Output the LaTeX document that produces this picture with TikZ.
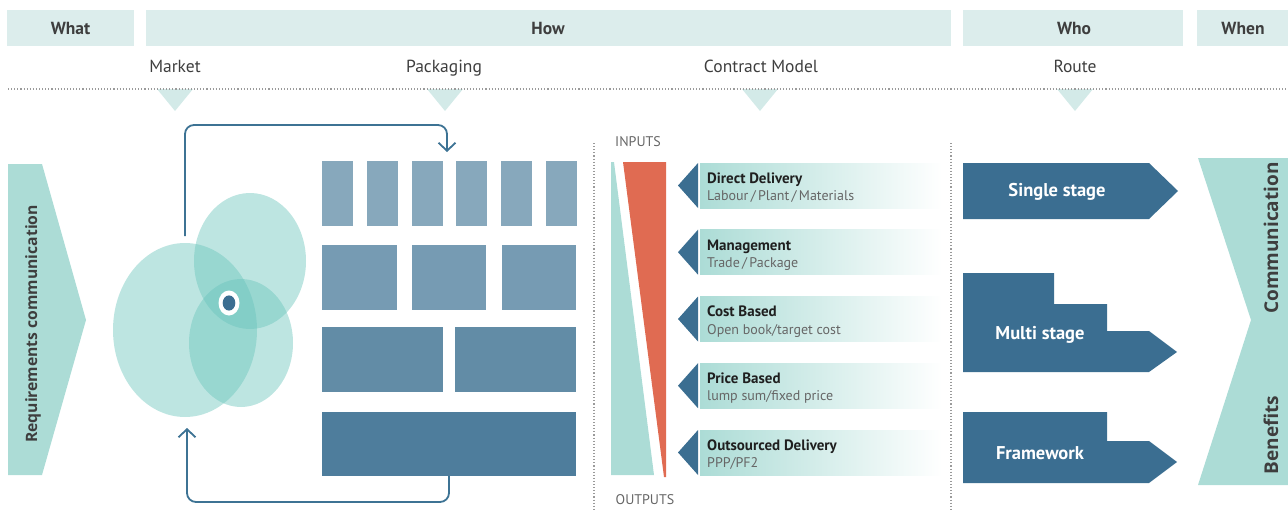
\documentclass[tikz,border=0pt]{standalone}
\usepackage{fontspec}
\setmainfont{PT Sans}
\newfontfamily\widefont{Open Sans}
\usetikzlibrary{arrows.meta}

\definecolor{hdrfill}{HTML}{DCEDEC}
\definecolor{hdrtext}{HTML}{3E3E3E}
\definecolor{tricol}{HTML}{D3EAE8}
\definecolor{aqua}{HTML}{ACDCD6}
\definecolor{vennc}{RGB}{105,196,187}
\definecolor{navy}{HTML}{3B6E91}
\definecolor{flowc}{HTML}{3D7394}
\definecolor{pkA}{HTML}{87A8BC}
\definecolor{pkB}{HTML}{769BB3}
\definecolor{pkC}{HTML}{628CA6}
\definecolor{pkD}{HTML}{4E7D9C}
\definecolor{redwedge}{HTML}{E06B52}
\definecolor{subgray}{HTML}{666666}
\definecolor{dotgray}{HTML}{9A9A9A}

\begin{document}
\begin{tikzpicture}[x=1pt,y=-1pt,
  hdrbox/.style={fill=hdrfill, minimum height=36pt, inner sep=0pt, outer sep=0pt},
  hdr/.style={anchor=base, text=hdrtext, inner sep=0pt,
              font=\fontsize{17.5}{19}\selectfont\bfseries},
  subhdr/.style={anchor=base, text=hdrtext, font=\fontsize{17.5}{19}\selectfont, inner sep=0pt},
  dotline/.style={draw=dotgray, line width=1.1pt, dash pattern=on 1.1pt off 2pt},
  flow/.style={draw=flowc, line width=1.8pt, rounded corners=9pt,
               -{Straight Barb[length=8pt,width=17pt,line width=1.8pt]}},
  venn/.style={fill=vennc, fill opacity=0.44},
  itemtitle/.style={anchor=base west, inner sep=0pt, text=black!88,
              font=\fontsize{15}{16}\selectfont\bfseries},
  itemsub/.style={anchor=base west, inner sep=0pt, text=subgray,
              font=\fontsize{14}{16}\selectfont},
  routetext/.style={anchor=base, text=white, inner sep=0pt, font=\fontsize{18.5}{20}\selectfont\bfseries},
  sidetext/.style={rotate=90, text=hdrtext, inner sep=0pt,
              font=\widefont\fontsize{15.7}{17}\selectfont\bfseries},
  endtext/.style={sidetext, font=\widefont\fontsize{19}{21}\selectfont\bfseries},
  ioText/.style={text=subgray, inner sep=0pt, font=\fontsize{14}{16}\selectfont}
]
\useasboundingbox (0,0) rectangle (1288,511);

% ---- column headers ----
\node[hdrbox, minimum width=127pt] (whatbox) at (70.5,28) {};
\node[hdrbox, minimum width=805pt] (howbox)  at (548.5,28) {};
\node[hdrbox, minimum width=220pt] (whobox)  at (1073,28) {};
\node[hdrbox, minimum width=91pt]  (whenbox) at (1242.5,28) {};
\node[hdr] (what) at (70.5,35) {What};
\node[hdr] (how)  at (548,35) {How};
\node[hdr] (who)  at (1074,35) {Who};
\node[hdr] (when) at (1243,35) {When};

% ---- sub headers ----
\node[subhdr] (market) at (175,72.5) {Market};
\node[subhdr] (packaging) at (444,72.5) {Packaging};
\node[subhdr] (contract) at (761,72.5) {Contract Model};
\node[subhdr] (route) at (1075,72.5) {Route};

% ---- pointer triangles and separators ----
\foreach \cx in {175,445,760,1075}
  \fill[tricol] (\cx-18,89) -- (\cx+18,89) -- (\cx,111) -- cycle;
\draw[dotline] (8,89) -- (1288,89);
\draw[dotline] (594,143) -- (594,511);
\draw[dotline] (951,143) -- (951,511);

% ---- requirements arrow ----
\fill[aqua] (8,164) -- (42,164) -- (86,320) -- (42,475) -- (8,475) -- cycle;
\node[sidetext] (req) at (33,324) {Requirements communication};

% ---- market venn ----
\fill[venn] (185,330) ellipse [x radius=72, y radius=87];
\fill[venn] (250,261) ellipse [x radius=56, y radius=68];
\fill[venn] (241,343) ellipse [x radius=52, y radius=64];
\fill[white] (229,303) ellipse [x radius=10.5, y radius=12.5];
\fill[navy] (229,303) ellipse [x radius=6.3, y radius=7.6];
\coordinate (vennout) at (185,236);
\coordinate (vennin) at (187,428);

% ---- packaging blocks ----
\foreach \x in {322,366.8,411.6,456.4,501.2,546}
  \fill[pkA] (\x,161) rectangle ++(31,65);
\fill[pkB] (322,245) rectangle (397,310);
\fill[pkB] (412,245) rectangle (486,310);
\fill[pkB] (502,245) rectangle (576,310);
\fill[pkC] (322,327) rectangle (443,392);
\fill[pkC] (455,327) rectangle (576,392);
\node[fill=pkD, minimum width=254pt, minimum height=64pt, inner sep=0pt, outer sep=0pt]
  (pkbase) at (449,444) {};
\coordinate (pkin) at (447,152);

% ---- feedback loop ----
\draw[flow] (vennout) -- ++(0,-111) -| (pkin);
\draw[flow] (pkbase.south) -- ++(0,26) -| (vennin);

% ---- contract model ----
\node[ioText] (inputs) at (638,142) {INPUTS};
\node[ioText] (outputs) at (645,500) {OUTPUTS};
\fill[aqua] (611,162) -- (614,162) -- (654,475) -- (611,475) -- cycle;
\fill[redwedge] (623,162) -- (666,162) -- (666,477) -- (664,477) -- cycle;

\foreach \t/\ttl/\sbt [count=\i] in {
   163/Direct Delivery/{Labour\,/\,Plant\,/\,Materials},
   229.7/Management/{Trade\,/\,Package},
   296.5/Cost Based/{Open book/target cost},
   363.2/Price Based/{lump sum/fixed price},
   430/Outsourced Delivery/{PPP/PF2}} {
  \fill[navy] (678,\t+22.5) -- (698,\t) -- (698,\t+45) -- cycle;
  \shade[left color=aqua, right color=white] (700,\t) rectangle (942,\t+45);
  \node[itemtitle] (cm\i) at (707,\t+20.3) {\ttl};
  \node[itemsub] (cs\i) at (707,\t+37.5) {\sbt};
}

% ---- routes ----
\fill[navy] (963,163) -- (1149,163) -- (1178,191) -- (1149,219) -- (963,219) -- cycle;
\node[routetext] (single) at (1057,196.5) {Single stage};
\fill[navy] (963,273) -- (1054,273) -- (1054,304) -- (1107,304) -- (1107,331)
  -- (1149,331) -- (1177,352) -- (1149,372) -- (963,372) -- cycle;
\node[routetext] (multi) at (1040,339) {Multi stage};
\fill[navy] (963,412) -- (1107,412) -- (1107,441) -- (1149,441) -- (1177,462)
  -- (1149,483) -- (963,483) -- cycle;
\node[routetext] (frame) at (1040,459.5) {Framework};

% ---- outcome chevron ----
\fill[aqua] (1198,158) -- (1288,158) -- (1288,485) -- (1198,485) -- (1251,320) -- cycle;
\node[endtext] (comm) at (1271,238) {Communication};
\node[endtext] (ben) at (1271,435) {Benefits};
\end{tikzpicture}
\end{document}
